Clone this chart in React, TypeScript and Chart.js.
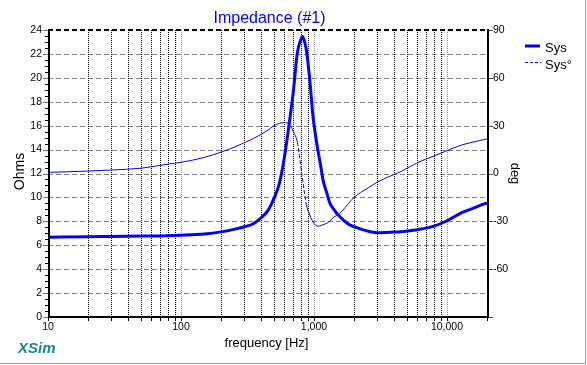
import React, { useEffect, useRef } from 'react';
import { Chart, registerables } from 'chart.js';

Chart.register(...registerables);

// ---- data ----
const freqs = [10, 20, 30, 50, 80, 100, 150, 200, 250, 300, 350, 400, 450, 500, 550, 600, 650, 700, 750, 800, 820, 850, 880, 930, 980, 1030, 1080, 1130, 1170, 1250, 1320, 1400, 1560, 1800, 2000, 2500, 3000, 4000, 4500, 6000, 8000, 10000, 12500, 15000, 20000];
const impedance = [6.66, 6.72, 6.74, 6.77, 6.8, 6.84, 6.95, 7.12, 7.33, 7.55, 7.8, 8.3, 8.9, 9.9, 11.2, 13.4, 16.1, 18.9, 22.1, 23.25, 23.45, 23.0, 22.2, 19.8, 16.9, 15.1, 13.7, 12.45, 11.45, 10.35, 9.5, 9.05, 8.4, 7.8, 7.55, 7.2, 7.05, 7.1, 7.13, 7.3, 7.6, 8.05, 8.65, 9.0, 9.55];
const phase = [0.7, 1.5, 2.2, 3.3, 5.9, 7.0, 10.1, 13.4, 16.4, 19.3, 21.9, 24.5, 27.2, 30.0, 31.4, 31.9, 31.0, 26.3, 19.5, 3.2, -3.5, -12.8, -20.3, -26.0, -30.2, -32.5, -33.0, -32.6, -32.1, -31.2, -29.8, -27.5, -25.0, -19.3, -15.0, -9.5, -5.4, -0.6, 1.2, 6.8, 11.0, 14.3, 17.5, 19.3, 21.7];

const xTicks = [10, 20, 30, 40, 50, 60, 70, 80, 90, 100, 200, 300, 400, 500, 600, 700, 800, 900, 1000, 2000, 3000, 4000, 5000, 6000, 7000, 8000, 9000, 10000, 20000];
const xLabelValues = [10, 100, 1000, 10000];
const ohmTicks = [0, 2, 4, 6, 8, 10, 12, 14, 16, 18, 20, 22, 24];
const degTicks = [-90, -60, -30, 0, 30, 60, 90];

const titleText = 'Impedance (#1)';
const xTitle = 'frequency [Hz]';
const yTitle = 'Ohms';
const y1Title = 'deg';
const legendNames = ['Sys', 'Sys°'];

const FONT = '"Liberation Sans", Arial, sans-serif';
const BLUE = '#0000ff';

const decor = {
  id: 'decor',
  beforeDatasetsDraw(chart: any) {
    const { ctx, chartArea: a, scales } = chart;
    const x = scales.x, y = scales.y;
    ctx.save();
    ctx.lineWidth = 1;
    // horizontal dashed grid
    ctx.setLineDash([5, 3]);
    ctx.strokeStyle = '#808080';
    for (const v of ohmTicks) {
      if (v <= 0 || v >= 24) continue;
      const py = Math.round(y.getPixelForValue(v)) + 0.5;
      ctx.beginPath(); ctx.moveTo(a.left, py); ctx.lineTo(a.right, py); ctx.stroke();
    }
    // vertical dotted grid
    ctx.setLineDash([1, 1]);
    for (const f of xTicks) {
      if (f <= 10 || f >= 20000) continue;
      const px = Math.round(x.getPixelForValue(f)) + 0.5;
      ctx.strokeStyle = xLabelValues.includes(f) ? '#9a9a9a' : '#000';
      ctx.beginPath(); ctx.moveTo(px, a.top); ctx.lineTo(px, a.bottom); ctx.stroke();
    }
    ctx.restore();
  },
  afterDatasetsDraw(chart: any) {
    const { ctx, chartArea: a, scales } = chart;
    const x = scales.x, y = scales.y, y1 = scales.y1;
    ctx.save();
    // top dashed line
    ctx.setLineDash([5, 3]);
    ctx.strokeStyle = '#000';
    ctx.lineWidth = 2;
    ctx.beginPath(); ctx.moveTo(a.left, a.top); ctx.lineTo(a.right, a.top); ctx.stroke();
    ctx.setLineDash([]);
    // axes
    ctx.beginPath(); ctx.moveTo(a.left + 1, a.top - 1); ctx.lineTo(a.left + 1, a.bottom + 1); ctx.stroke();
    ctx.beginPath(); ctx.moveTo(a.left, a.bottom); ctx.lineTo(a.right + 2, a.bottom); ctx.stroke();
    ctx.beginPath(); ctx.moveTo(a.right + 1, a.top - 1); ctx.lineTo(a.right + 1, a.bottom + 1); ctx.stroke();
    // left ticks
    ctx.lineWidth = 1;
    for (let v = 0; v <= 24.001; v += 0.5) {
      const py = Math.round(y.getPixelForValue(v)) + 0.5;
      const major = Math.abs(v / 2 - Math.round(v / 2)) < 1e-6;
      ctx.strokeStyle = major ? '#707070' : '#000';
      ctx.beginPath(); ctx.moveTo(major ? a.left - 5 : a.left - 3, py); ctx.lineTo(a.left, py); ctx.stroke();
    }
    // right ticks
    ctx.strokeStyle = '#505050';
    for (const v of degTicks) {
      const py = Math.round(y1.getPixelForValue(v)) + 0.5;
      ctx.beginPath(); ctx.moveTo(a.right + 2, py); ctx.lineTo(a.right + 6, py); ctx.stroke();
    }
    // bottom ticks
    ctx.strokeStyle = '#000';
    for (const f of xTicks) {
      const px = Math.round(x.getPixelForValue(f)) + 0.5;
      ctx.beginPath(); ctx.moveTo(px, a.bottom + 1); ctx.lineTo(px, a.bottom + 4); ctx.stroke();
    }
    // title
    ctx.fillStyle = BLUE;
    ctx.font = `16px ${FONT}`;
    ctx.textAlign = 'center';
    ctx.textBaseline = 'alphabetic';
    ctx.fillText(titleText, (a.left + a.right) / 2 + 2, 22.5);
    // axis titles
    ctx.fillStyle = '#000';
    ctx.font = `13px ${FONT}`;
    ctx.fillText(xTitle, (a.left + a.right) / 2 - 1, 347);
    ctx.save();
    ctx.font = `14px ${FONT}`;
    ctx.translate(20, (a.top + a.bottom) / 2 - 2);
    ctx.rotate(-Math.PI / 2);
    ctx.textBaseline = 'middle';
    ctx.fillText(yTitle, 0, 0);
    ctx.restore();
    ctx.save();
    ctx.font = `13px ${FONT}`;
    ctx.translate(515, (a.top + a.bottom) / 2);
    ctx.rotate(Math.PI / 2);
    ctx.textBaseline = 'middle';
    ctx.fillText(y1Title, 0, 0);
    ctx.restore();
    // legend
    ctx.strokeStyle = BLUE;
    ctx.lineWidth = 3;
    ctx.beginPath(); ctx.moveTo(525, 46); ctx.lineTo(540, 46); ctx.stroke();
    ctx.lineWidth = 1;
    ctx.setLineDash([3, 2]);
    ctx.beginPath(); ctx.moveTo(525, 62.5); ctx.lineTo(541, 62.5); ctx.stroke();
    ctx.setLineDash([]);
    ctx.fillStyle = '#000';
    ctx.font = `13px ${FONT}`;
    ctx.textAlign = 'left';
    ctx.fillText(legendNames[0], 545, 52);
    ctx.fillText(legendNames[1], 545, 68.5);
    // XSim
    ctx.fillStyle = '#138a8a';
    ctx.font = `italic bold 15px ${FONT}`;
    ctx.fillText('XSim', 18, 353);
    // outer frame
    ctx.fillStyle = '#a0a0a0';
    ctx.fillRect(585, 0, 1, 364);
    ctx.fillRect(0, 363, 586, 1);
    ctx.restore();
  },
};

export default function App() {
  const ref = useRef<HTMLCanvasElement>(null);
  useEffect(() => {
    const tickFont = { family: FONT, size: 10.5 };
    const chart = new Chart(ref.current as HTMLCanvasElement, {
      type: 'line',
      data: {
        datasets: [
          {
            label: legendNames[0],
            data: freqs.map((f, i) => ({ x: f, y: impedance[i] })),
            borderColor: BLUE,
            borderWidth: 3,
            pointRadius: 0,
            cubicInterpolationMode: 'monotone',
            yAxisID: 'y',
          },
          {
            label: legendNames[1],
            data: freqs.map((f, i) => ({ x: f, y: phase[i] })),
            borderColor: BLUE,
            borderWidth: 1,
            pointRadius: 0,
            cubicInterpolationMode: 'monotone',
            yAxisID: 'y1',
            segment: {
              borderDash: (c: any) =>
                Math.abs(c.p1.y - c.p0.y) > 2 * Math.abs(c.p1.x - c.p0.x) + 4 ? [4, 2] : undefined,
            },
          },
        ],
      } as any,
      options: {
        responsive: false,
        animation: false,
        devicePixelRatio: 1,
        layout: { padding: { top: 30, left: 0, right: 0, bottom: 0 } },
        plugins: { legend: { display: false }, title: { display: false }, tooltip: { enabled: false } },
        scales: {
          x: {
            type: 'logarithmic',
            min: 10,
            max: 20000,
            position: 'bottom',
            grid: { display: false, drawTicks: false },
            border: { display: false },
            afterBuildTicks: (s: any) => { s.ticks = xTicks.map((v) => ({ value: v })); },
            afterFit: (s: any) => { s.height = 48; },
            ticks: {
              autoSkip: false,
              maxRotation: 0,
              minRotation: 0,
              padding: 4,
              color: '#000',
              font: tickFont,
              callback: (v: any) => (xLabelValues.includes(Number(v)) ? Number(v).toLocaleString('en-US') : ''),
            },
          },
          y: {
            position: 'left',
            min: 0,
            max: 24,
            grid: { display: false, drawTicks: false },
            border: { display: false },
            afterBuildTicks: (s: any) => { s.ticks = ohmTicks.map((v) => ({ value: v })); },
            afterFit: (s: any) => { s.width = 48; },
            ticks: { padding: 6, color: '#000', font: tickFont, autoSkip: false },
          },
          y1: {
            position: 'right',
            min: -90,
            max: 90,
            grid: { display: false, drawTicks: false },
            border: { display: false },
            afterBuildTicks: (s: any) => { s.ticks = degTicks.map((v) => ({ value: v })); },
            afterFit: (s: any) => { s.width = 100; },
            ticks: {
              padding: 6,
              color: '#000',
              font: tickFont,
              autoSkip: false,
              callback: (v: any) => (Number(v) === -90 ? '' : String(v)),
            },
          },
        },
      } as any,
      plugins: [decor],
    });
    return () => chart.destroy();
  }, []);
  return (
    <div style={{ position: 'absolute', left: 0, top: 0, width: 587, height: 365, background: '#fff' }}>
      <canvas ref={ref} width={587} height={365} style={{ display: 'block', width: 587, height: 365 }} />
    </div>
  );
}
